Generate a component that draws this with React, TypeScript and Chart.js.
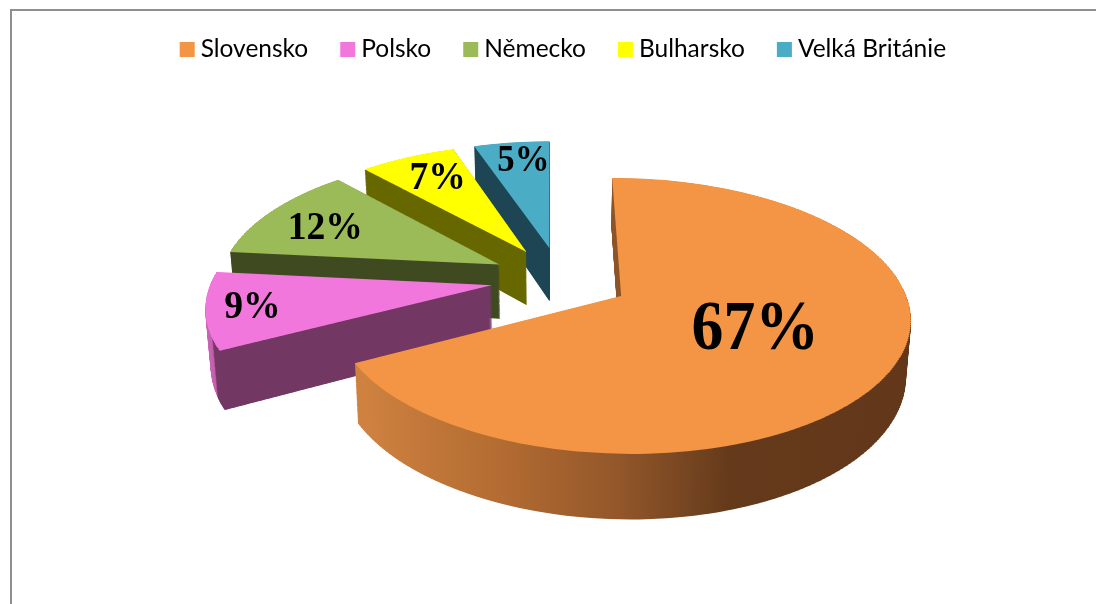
import React, { useEffect, useRef } from "react";
import { Chart, registerables } from "chart.js";

Chart.register(...registerables);

const categories = ["Slovensko", "Polsko", "Německo", "Bulharsko", "Velká Británie"];
const shares = [67.4, 9.3, 11.7, 6.5, 5.1];
const valueLabels = ["67%", "9%", "12%", "7%", "5%"];
const topColors = ["#f39544", "#f277dc", "#9bbb59", "#ffff00", "#4bacc6"];
const labelSizes = [70, 40, 40, 40, 37];
const labelRadii = [0.51, 0.84, 0.73, 0.75, 0.8];
const labelTurns = [-2, -0.5, -3, 1, 1.5];
const labelSqueeze = [0.91, 0.94, 0.94, 0.94, 0.94];
// Side walls: [position along x relative to the pie centre, colour]
const wallStops: [number, string][][] = [
  [[-186, "#cf8240"], [-55, "#b46c32"], [50, "#93572a"], [150, "#643a1b"], [310, "#63381a"]],
  [[-360, "#cc66b8"], [-340, "#c45fae"], [-337, "#733764"], [-60, "#733764"]],
  [[-360, "#3f4a21"], [0, "#3f4a21"]],
  [[-360, "#676700"], [0, "#676700"]],
  [[-360, "#1e4553"], [0, "#1e4553"]],
];
const drawOrder = [4, 3, 2, 1, 0];

const RADIUS = 290;
const EXPLODE = 72;
const CENTER_X = 560.5;
const CENTER_Y = 279;
const SCALE_X = 0.965;
const SCALE_Y = 0.449;
const PERSPECTIVE = 0.00049;
const DEPTH = 55;
const WALL_SHRINK = 0.015;
const BAND = 4;
const LAYERS = 110;

const persp = (v: number) => 1 - PERSPECTIVE * v;
const screenX = (u: number, v: number, t = 0) =>
  CENTER_X + (SCALE_X * u * (1 - WALL_SHRINK * t)) / persp(v);
const screenY = (v: number, t = 0) => CENTER_Y + (SCALE_Y * v + t * DEPTH) / persp(v);

function drawSlice(chart: any, el: any, t: number, fill: any) {
  const ctx = chart.ctx as CanvasRenderingContext2D;
  const mid = (el.startAngle + el.endAngle) / 2;
  const dx = Math.cos(mid) * EXPLODE;
  const dy = Math.sin(mid) * EXPLODE;
  let vMin = dy;
  let vMax = dy;
  for (let k = 0; k <= 24; k++) {
    const a = el.startAngle + ((el.endAngle - el.startAngle) * k) / 24;
    const v = dy + Math.sin(a) * RADIUS;
    vMin = Math.min(vMin, v);
    vMax = Math.max(vMax, v);
  }
  const saved = el.options;
  el.options = Object.create(saved, { backgroundColor: { value: fill } });
  for (let v0 = Math.floor(vMin) - BAND; v0 < vMax + BAND; v0 += BAND) {
    const v1 = v0 + BAND;
    const yA = screenY(v0, t);
    const yB = screenY(v1, t);
    const top = Math.round(yA);
    const bottom = Math.round(yB);
    if (bottom <= top) continue;
    const sy = (yB - yA) / (v1 - v0);
    const sx = (SCALE_X * (1 - WALL_SHRINK * t)) / persp((v0 + v1) / 2);
    ctx.save();
    ctx.beginPath();
    ctx.rect(0, top, chart.width, bottom - top);
    ctx.clip();
    ctx.translate(CENTER_X, yA);
    ctx.scale(sx, sy);
    ctx.translate(dx - el.x, dy - v0 - el.y);
    el.draw(ctx);
    ctx.restore();
  }
  el.options = saved;
}

const pie3d = {
  id: "pie3d",
  beforeDraw(chart: any) {
    const ctx = chart.ctx as CanvasRenderingContext2D;
    ctx.save();
    ctx.fillStyle = "#8e8e8e";
    ctx.fillRect(10, 9, chart.width - 10, 2);
    ctx.fillRect(10, 9, 2, chart.height - 9);
    ctx.restore();
  },
  beforeDatasetsDraw(chart: any) {
    const ctx = chart.ctx as CanvasRenderingContext2D;
    const arcs = chart.getDatasetMeta(0).data;
    for (const i of drawOrder) {
      const el = arcs[i];
      const stops = wallStops[i];
      const first = stops[0][0];
      const last = stops[stops.length - 1][0];
      const shift = Math.cos((el.startAngle + el.endAngle) / 2) * EXPLODE;
      const grad = ctx.createLinearGradient(el.x + first - shift, 0, el.x + last - shift, 0);
      for (const [pos, col] of stops) grad.addColorStop((pos - first) / (last - first), col);
      for (let k = LAYERS; k > 0; k--) drawSlice(chart, el, k / LAYERS, grad);
      drawSlice(chart, el, 0, topColors[i]);
    }
    return false;
  },
  afterDraw(chart: any) {
    const ctx = chart.ctx as CanvasRenderingContext2D;
    const arcs = chart.getDatasetMeta(0).data;
    ctx.save();
    ctx.fillStyle = "#000";
    ctx.textAlign = "center";
    ctx.textBaseline = "middle";
    arcs.forEach((el: any, i: number) => {
      const mid = (el.startAngle + el.endAngle) / 2;
      const dx = Math.cos(mid) * EXPLODE;
      const dy = Math.sin(mid) * EXPLODE;
      const a = mid + (labelTurns[i] * Math.PI) / 180;
      const r = RADIUS * labelRadii[i];
      const u = dx + Math.cos(a) * r;
      const v = dy + Math.sin(a) * r;
      ctx.font = `bold ${labelSizes[i]}px "Liberation Serif"`;
      const natural = ctx.measureText(valueLabels[i]).width;
      ctx.fillText(valueLabels[i], screenX(u, v), screenY(v), natural * labelSqueeze[i]);
    });
    ctx.restore();
  },
};

export default function App() {
  const ref = useRef<HTMLCanvasElement>(null);
  useEffect(() => {
    const chart = new Chart(ref.current as HTMLCanvasElement, {
      type: "pie",
      data: {
        labels: categories,
        datasets: [
          {
            data: shares,
            backgroundColor: topColors,
            borderWidth: 0,
            radius: RADIUS,
            rotation: -0.3,
          } as any,
        ],
      },
      options: {
        responsive: false,
        animation: false,
        events: [],
        layout: { padding: { left: 36, top: -1 } },
        plugins: {
          tooltip: { enabled: false },
          legend: {
            position: "top",
            labels: {
              font: { family: "Lato", size: 24.5 },
              color: "#111",
              boxWidth: 2.5,
              boxHeight: 2.5,
              padding: 38.25,
              generateLabels: () =>
                categories.map((text, index) => ({
                  text,
                  index,
                  fillStyle: topColors[index],
                  strokeStyle: topColors[index],
                  lineWidth: 12.5,
                  hidden: false,
                })),
            },
          },
        },
      },
      plugins: [pie3d as any],
    });
    return () => chart.destroy();
  }, []);
  return (
    <div style={{ position: "absolute", left: 0, top: 0, width: 1096, height: 604, background: "#fff" }}>
      <canvas ref={ref} width={1096} height={604} style={{ display: "block" }} />
    </div>
  );
}
